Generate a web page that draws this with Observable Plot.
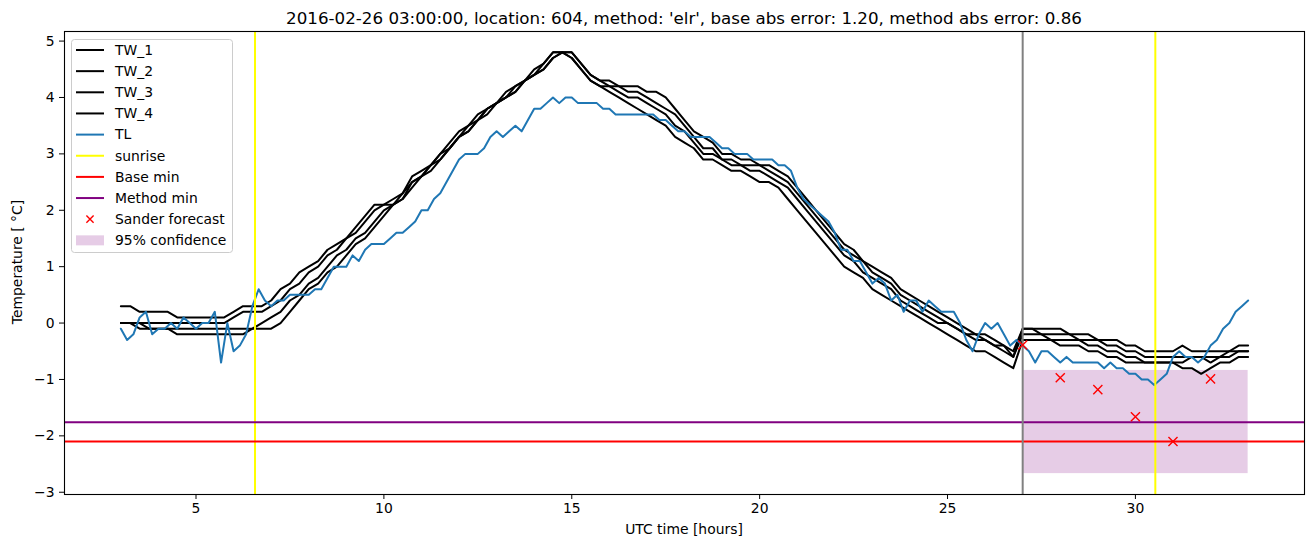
<!DOCTYPE html>
<html><head><meta charset="utf-8">
<script src="https://cdn.jsdelivr.net/npm/d3@7"></script>
<script src="https://cdn.jsdelivr.net/npm/@observablehq/plot@0.6"></script>
<style>body{margin:0;background:#fff;} svg{display:block;}</style>
</head><body><div id="chart"></div>
<script>
const titleText = "2016-02-26 03:00:00, location: 604, method: 'elr', base abs error: 1.20, method abs error: 0.86";
const xLabel = "UTC time [hours]";
const yLabel = "Temperature [ °C]";

// TW series: 15-minute samples from 03:00 to 33:00
const twStart = 3, twStep = 0.25;
const TW_1 = [
 0.3,0.3,0.2,0.2, 0.2,0.2,0.1,0.1, 0.1,0.1,0.1,0.1, 0.2,0.3,0.3,0.3,
 0.4,0.6,0.7,0.9, 1.0,1.1,1.3,1.4, 1.5,1.7,1.9,2.1, 2.1,2.2,2.3,2.6,
 2.7,2.8,3.0,3.2, 3.4,3.5,3.7,3.8, 3.9,4.1,4.2,4.3, 4.5,4.6,4.8,4.8,
 4.7,4.5,4.3,4.2, 4.1,4.0,3.9,3.8, 3.7,3.6,3.5,3.3, 3.2,3.1,2.9,2.9,
 2.8,2.7,2.7,2.6, 2.5,2.5,2.4,2.2, 2.0,1.8,1.6,1.4, 1.2,1.0,0.9,0.8,
 0.6,0.5,0.4,0.3, 0.2,0.1,0.0,-0.1, -0.2,-0.3,-0.4,-0.5, -0.5,-0.6,-0.7,-0.8,
 -0.3,-0.3,-0.3,-0.3, -0.4,-0.4,-0.4,-0.5, -0.5,-0.6,-0.6,-0.7, -0.7,-0.7,-0.7,-0.7,
 -0.7,-0.8,-0.8,-0.9, -0.8,-0.7,-0.7,-0.6, -0.6];
const TW_2 = [
 0.0,0.0,0.0,0.0, 0.0,0.0,0.0,0.0, 0.0,0.0,0.0,0.0, 0.1,0.2,0.2,0.2,
 0.3,0.4,0.6,0.7, 0.9,1.0,1.2,1.3, 1.5,1.6,1.8,2.0, 2.1,2.1,2.3,2.5,
 2.6,2.8,3.0,3.1, 3.3,3.5,3.6,3.8, 3.9,4.0,4.2,4.3, 4.4,4.6,4.8,4.8,
 4.7,4.5,4.3,4.2, 4.2,4.1,4.0,4.0, 3.9,3.8,3.7,3.5, 3.4,3.2,3.0,3.0,
 2.9,2.8,2.8,2.7, 2.7,2.6,2.5,2.4, 2.2,2.0,1.8,1.6, 1.4,1.2,1.1,0.9,
 0.8,0.7,0.6,0.4, 0.3,0.2,0.1,0.0, 0.0,-0.1,-0.2,-0.3, -0.3,-0.4,-0.5,-0.6,
 -0.2,-0.2,-0.2,-0.3, -0.3,-0.3,-0.3,-0.4, -0.4,-0.5,-0.5,-0.6, -0.6,-0.7,-0.7,-0.7,
 -0.7,-0.7,-0.6,-0.6, -0.7,-0.6,-0.6,-0.5, -0.5];
const TW_3 = [
 0.0,0.0,0.0,-0.1, -0.1,-0.1,-0.1,-0.1, -0.1,-0.1,-0.1,-0.1, -0.1,-0.1,-0.1,0.0,
 0.1,0.2,0.4,0.5, 0.7,0.8,1.0,1.2, 1.3,1.5,1.6,1.8, 2.0,2.1,2.2,2.5,
 2.6,2.8,2.9,3.1, 3.3,3.4,3.6,3.8, 3.9,4.0,4.1,4.3, 4.4,4.5,4.7,4.8,
 4.8,4.6,4.4,4.3, 4.2,4.2,4.1,4.1, 4.0,3.9,3.8,3.7, 3.5,3.3,3.1,3.1,
 2.9,2.9,2.8,2.8, 2.8,2.7,2.6,2.5, 2.3,2.1,1.9,1.7, 1.5,1.3,1.2,1.1,
 0.9,0.8,0.7,0.5, 0.4,0.3,0.2,0.1, 0.0,-0.1,-0.2,-0.2, -0.3,-0.4,-0.4,-0.6,
 -0.1,-0.1,-0.2,-0.2, -0.2,-0.2,-0.3,-0.3, -0.3,-0.4,-0.4,-0.5, -0.5,-0.6,-0.6,-0.6,
 -0.6,-0.6,-0.6,-0.6, -0.6,-0.6,-0.5,-0.5, -0.5];
const TW_4 = [
 0.0,0.0,-0.1,-0.1, -0.1,-0.1,-0.2,-0.2, -0.2,-0.2,-0.2,-0.2, -0.2,-0.2,-0.1,-0.1,
 -0.1,0.0,0.2,0.4, 0.6,0.7,0.9,1.0, 1.2,1.4,1.5,1.7, 1.9,2.1,2.2,2.4,
 2.6,2.7,2.9,3.1, 3.3,3.4,3.6,3.7, 3.9,4.0,4.1,4.3, 4.4,4.5,4.7,4.8,
 4.8,4.6,4.4,4.3, 4.3,4.2,4.2,4.2, 4.1,4.1,4.0,3.8, 3.6,3.4,3.3,3.2,
 3.0,3.0,2.9,2.9, 2.8,2.8,2.7,2.6, 2.4,2.2,2.0,1.8, 1.6,1.4,1.3,1.1,
 1.0,0.9,0.8,0.6, 0.5,0.4,0.3,0.2, 0.1,0.0,-0.1,-0.2, -0.2,-0.3,-0.4,-0.5,
 -0.1,-0.1,-0.1,-0.1, -0.1,-0.2,-0.2,-0.2, -0.3,-0.3,-0.3,-0.4, -0.4,-0.5,-0.5,-0.5,
 -0.5,-0.4,-0.5,-0.5, -0.5,-0.5,-0.5,-0.4, -0.4];

// TL: 10-minute samples from 03:00 to 33:00
const tlStart = 3, tlStep = 1/6;
const TL = [
 -0.1,-0.3,-0.2,0.1,0.2,-0.2,
 -0.1,-0.1,0.0,-0.1,0.1,0.0,
 -0.1,0.0,0.0,0.2,-0.7,0.0,
 -0.5,-0.4,-0.2,0.3,0.6,0.4,
 0.3,0.4,0.4,0.5,0.5,0.5,
 0.5,0.6,0.6,0.8,1.0,1.0,
 1.0,1.2,1.1,1.3,1.4,1.4,
 1.4,1.5,1.6,1.6,1.7,1.8,
 2.0,2.0,2.2,2.3,2.5,2.7,
 2.9,3.0,3.0,3.0,3.1,3.3,
 3.4,3.3,3.4,3.5,3.4,3.6,
 3.8,3.8,3.9,4.0,3.9,4.0,
 4.0,3.9,3.9,3.9,3.9,3.8,
 3.8,3.7,3.7,3.7,3.7,3.7,
 3.7,3.7,3.6,3.6,3.5,3.4,
 3.4,3.3,3.3,3.3,3.3,3.2,
 3.1,3.1,3.0,3.0,3.0,2.9,
 2.9,2.9,2.9,2.8,2.8,2.7,
 2.4,2.2,2.1,2.0,1.9,1.8,
 1.6,1.3,1.3,1.1,1.1,0.9,
 0.7,0.8,0.7,0.4,0.5,0.2,
 0.4,0.4,0.2,0.4,0.3,0.2,
 0.2,0.2,0.0,-0.3,-0.5,-0.2,
 0.0,-0.1,0.0,-0.2,-0.4,-0.3,
 -0.4,-0.5,-0.7,-0.5,-0.5,-0.6,
 -0.7,-0.6,-0.7,-0.7,-0.7,-0.7,
 -0.7,-0.8,-0.7,-0.8,-0.8,-0.9,
 -0.9,-1.0,-1.0,-1.1,-1.0,-0.9,
 -0.6,-0.5,-0.6,-0.6,-0.7,-0.6,
 -0.4,-0.3,-0.1,0.0,0.2,0.3,
 0.4];

const sunriseHours = [6.57, 30.53];
const forecastStartHour = [27];
const baseMin = [-2.10];
const methodMin = [-1.76];
const sanderHours = [27, 28, 29, 30, 31, 32];
const sanderValues = [-0.39, -0.97, -1.18, -1.66, -2.10, -0.99];
const confHours = [27, 33];
const confBounds = [-2.67, -0.84];
const xTicks = [5, 10, 15, 20, 25, 30];
const yTicks = [-3, -2, -1, 0, 1, 2, 3, 4, 5];
const legendLabels = ["TW_1","TW_2","TW_3","TW_4","TL","sunrise","Base min","Method min","Sander forecast","95% confidence"];

const twSeries = [["TW_1", TW_1], ["TW_2", TW_2], ["TW_3", TW_3], ["TW_4", TW_4]];
const twRows = twSeries.flatMap(([name, arr]) => arr.map((v, i) => ({name, h: twStart + i * twStep, v})));
const tlRows = TL.map((v, i) => ({h: tlStart + i * tlStep, v}));
const sanderRows = sanderHours.map((h, i) => ({h, v: sanderValues[i]}));
const confRows = [{x1: confHours[0], x2: confHours[1], y1: confBounds[0], y2: confBounds[1]}];

const fmt = d => d < 0 ? "\u2212" + Math.abs(d) : String(d);
const FONT = "DejaVu Sans, sans-serif";

const chart = Plot.plot({
  width: 1313, height: 547,
  marginLeft: 64, marginRight: 9, marginTop: 31, marginBottom: 53,
  style: {fontFamily: FONT, fontSize: "13.9px", color: "#000", background: "#fff", overflow: "visible"},
  x: {domain: [1.5, 34.5], ticks: xTicks, tickFormat: fmt, tickSize: 5, tickPadding: 4, label: null},
  y: {domain: [-3.04, 5.17], ticks: yTicks, tickFormat: fmt, tickSize: 5, tickPadding: 5, label: null},
  marks: [
    Plot.rect(confRows, {x1: "x1", x2: "x2", y1: "y1", y2: "y2", fill: "purple", fillOpacity: 0.2}),
    Plot.line(twRows, {x: "h", y: "v", z: "name", stroke: "black", strokeWidth: 2}),
    Plot.line(tlRows, {x: "h", y: "v", stroke: "#1f77b4", strokeWidth: 2}),
    Plot.ruleX(sunriseHours, {stroke: "yellow", strokeWidth: 2}),
    Plot.ruleY(baseMin, {stroke: "red", strokeWidth: 2}),
    Plot.ruleY(methodMin, {stroke: "purple", strokeWidth: 2}),
    Plot.ruleX(forecastStartHour, {stroke: "gray", strokeWidth: 2}),
    Plot.dot(sanderRows, {x: "h", y: "v", symbol: "times", stroke: "red", strokeWidth: 1.4, r: 4.2}),
    Plot.frame({stroke: "black", strokeWidth: 1.1})
  ]
});
document.getElementById("chart").appendChild(chart);

const svg = d3.select(chart);
svg.append("text").attr("x", 684).attr("y", 24).attr("text-anchor", "middle")
  .attr("font-family", FONT).attr("font-size", "16.7px").attr("fill", "#000").text(titleText);
svg.append("text").attr("x", 684).attr("y", 534).attr("text-anchor", "middle")
  .attr("font-family", FONT).attr("font-size", "13.9px").attr("fill", "#000").text(xLabel);
svg.append("text").attr("transform", "translate(22,262) rotate(-90)").attr("text-anchor", "middle")
  .attr("font-family", FONT).attr("font-size", "13.9px").attr("fill", "#000").text(yLabel);

// legend
const lg = svg.append("g").attr("text-anchor", "start");
lg.append("rect").attr("x", 71.5).attr("y", 39.5).attr("width", 161).attr("height", 213).attr("rx", 3)
  .attr("fill", "white").attr("fill-opacity", 0.8).attr("stroke", "#cccccc").attr("stroke-width", 1);
const legendStyles = [
  {t: "line", c: "black"}, {t: "line", c: "black"}, {t: "line", c: "black"}, {t: "line", c: "black"},
  {t: "line", c: "#1f77b4"}, {t: "line", c: "yellow"}, {t: "line", c: "red"}, {t: "line", c: "purple"},
  {t: "x", c: "red"}, {t: "patch", c: "purple"}
];
legendLabels.forEach((lab, i) => {
  const y = 50 + i * 21.15;
  const s = legendStyles[i];
  if (s.t === "line") {
    lg.append("line").attr("x1", 76).attr("x2", 104).attr("y1", y).attr("y2", y)
      .attr("stroke", s.c).attr("stroke-width", 2);
  } else if (s.t === "x") {
    const d = 3.6;
    lg.append("path").attr("d", `M${90-d},${y-d}L${90+d},${y+d}M${90-d},${y+d}L${90+d},${y-d}`)
      .attr("stroke", s.c).attr("stroke-width", 1.4).attr("fill", "none");
  } else {
    lg.append("rect").attr("x", 76).attr("y", y - 5).attr("width", 28).attr("height", 10)
      .attr("fill", s.c).attr("fill-opacity", 0.2);
  }
  lg.append("text").attr("x", 115).attr("y", y).attr("dy", "0.35em").attr("text-anchor", "start")
    .attr("font-family", FONT).attr("font-size", "13.9px").attr("fill", "#000").text(lab);
});
</script>
</body></html>
